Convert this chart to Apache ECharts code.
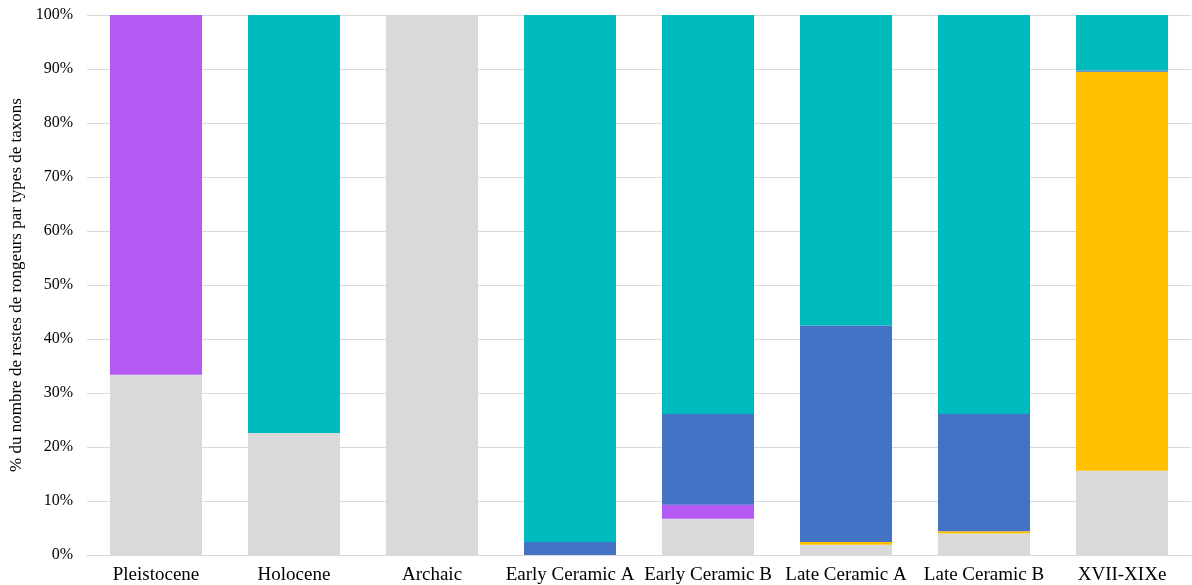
<!DOCTYPE html>
<html>
<head>
<meta charset="utf-8">
<script src="https://cdn.jsdelivr.net/npm/echarts@6/dist/echarts.min.js"></script>
<style>html,body{margin:0;padding:0;background:#fff}#c{width:1192px;height:585px}</style>
</head>
<body>
<div id="c"></div>
<script>
const categories = ['Pleistocene','Holocene','Archaic','Early Ceramic A','Early Ceramic B','Late Ceramic A','Late Ceramic B','XVII-XIXe'];
const greyVals   = [33.4, 22.6, 100, 0, 6.7, 1.9, 4.0, 15.6];
const yellowVals = [0, 0, 0, 0, 0, 0.5, 0.4, 73.9];
const purpleVals = [66.6, 0, 0, 0, 2.6, 0, 0, 0];
const blueVals   = [0, 0, 0, 2.4, 16.8, 40.1, 21.7, 0.2];
const tealVals   = [0, 77.4, 0, 97.6, 73.9, 57.5, 73.9, 10.3];
const yTicks = [0,10,20,30,40,50,60,70,80,90,100];

const seriesDefs = [
  {name:'grey', data:greyVals, color:'#d9d9d9'},
  {name:'yellow', data:yellowVals, color:'#ffc000'},
  {name:'purple', data:purpleVals, color:'#b459f3'},
  {name:'blue', data:blueVals, color:'#4472c4'},
  {name:'teal', data:tealVals, color:'#00bbbd'}
];

const chart = echarts.init(document.getElementById('c'));
chart.setOption({
  animation:false,
  textStyle:{fontFamily:'Liberation Serif'},
  grid:{left:87,right:1,top:15,bottom:30,containLabel:false,outerBoundsMode:'none'},
  xAxis:{
    type:'category',
    data:categories,
    axisLine:{show:true,lineStyle:{color:'#d9d9d9',width:1}},
    axisTick:{show:false},
    axisLabel:{color:'#000',fontSize:19,fontFamily:'Liberation Serif',margin:11,interval:0}
  },
  yAxis:{
    type:'value',
    min:0,max:100,interval:10,
    name:'% du nombre de restes de rongeurs par types de taxons',
    nameLocation:'middle',
    nameGap:57,
    nameTextStyle:{color:'#000',fontSize:17,fontFamily:'Liberation Serif'},
    axisLine:{show:false},
    axisTick:{show:false},
    axisLabel:{color:'#000',fontSize:16,fontFamily:'Liberation Serif',margin:14,
      formatter:v=>yTicks.includes(v)?v+'%':''},
    splitLine:{lineStyle:{color:'#d9d9d9',width:1}}
  },
  series:seriesDefs.map(s=>({
    name:s.name,type:'bar',stack:'a',data:s.data,
    barCategoryGap:'33.3%',
    itemStyle:{color:s.color}
  }))
});
</script>
</body>
</html>
